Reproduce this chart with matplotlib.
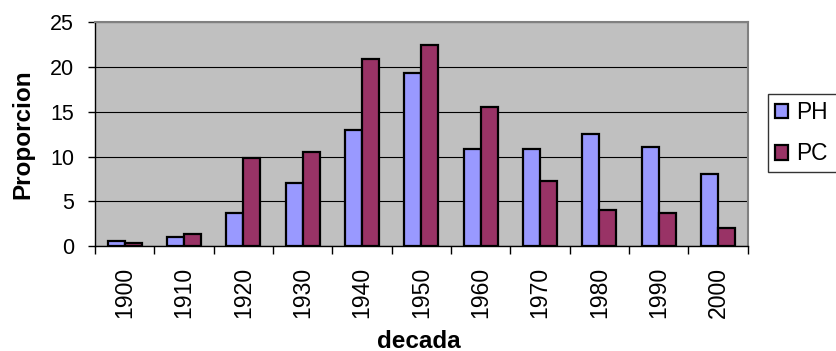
import numpy as np
import matplotlib
matplotlib.use('Agg')
import matplotlib.pyplot as plt
from matplotlib.patches import Patch

plt.rcParams['font.family'] = ['Liberation Sans', 'DejaVu Sans']

# Datos por decada
decadas = ['1900', '1910', '1920', '1930', '1940', '1950',
           '1960', '1970', '1980', '1990', '2000']
ph = [0.6, 1.0, 3.7, 7.1, 13.0, 19.3, 10.9, 10.9, 12.5, 11.1, 8.1]
pc = [0.4, 1.4, 9.8, 10.5, 20.9, 22.4, 15.5, 7.3, 4.1, 3.7, 2.0]

color_ph = '#9999FF'
color_pc = '#993366'

fig = plt.figure(figsize=(8.36, 3.51), dpi=100)
ax = fig.add_axes([95 / 836, 1 - 246.3 / 351, 652.7 / 836, 224.3 / 351])
ax.set_facecolor('#C0C0C0')

x = np.arange(len(decadas))
w = 1 / 3.5  # ancho de barra (separacion 150%)
ax.bar(x - w / 2, ph, width=w, color=color_ph, edgecolor='black', linewidth=1.6, zorder=3)
ax.bar(x + w / 2, pc, width=w, color=color_pc, edgecolor='black', linewidth=1.6, zorder=3)

ax.set_xlim(-0.5, len(decadas) - 0.5)
ax.set_ylim(0, 25)
ax.set_yticks(range(0, 26, 5))
ax.yaxis.grid(True, color='black', linewidth=0.8, zorder=1)
ax.set_axisbelow(True)

# Marcas del eje x entre categorias
ax.set_xticks(x)
ax.set_xticks(np.arange(-0.5, len(decadas)), minor=True)
ax.set_xticklabels(decadas, rotation=90, fontsize=16.6)
ax.tick_params(axis='x', which='major', length=0, pad=15)
ax.tick_params(axis='x', which='minor', length=6, width=1, direction='out', color='black')
ax.tick_params(axis='y', labelsize=15.5, length=5, width=1, direction='out', pad=10)

for side in ['left', 'bottom']:
    ax.spines[side].set_color('black')
    ax.spines[side].set_linewidth(1.0)
for side in ['top', 'right']:
    ax.spines[side].set_color('#808080')
    ax.spines[side].set_linewidth(1.5)

fig.text(23 / 836, 1 - 134 / 351, 'Proporcion', rotation=90, ha='center', va='center',
         fontsize=17.5, fontweight='bold')
fig.text(419 / 836, 1 - 341 / 351, 'decada', ha='center', va='center',
         fontsize=17.5, fontweight='bold')

# Leyenda pegada al borde derecho (se corta fuera de la figura)
handles = [Patch(facecolor=color_ph, edgecolor='black', linewidth=1.6, label='PH'),
           Patch(facecolor=color_pc, edgecolor='black', linewidth=1.6, label='PC')]
leg = fig.legend(handles=handles, loc='upper left', mode='expand',
                 bbox_to_anchor=(767.7 / 836, 1 - 94.3 / 351, 90 / 836, 0), borderaxespad=0,
                 fontsize=16.4, frameon=True, fancybox=False, shadow=False,
                 handlelength=0.6, handleheight=0.6, handletextpad=0.35,
                 labelspacing=0.8, borderpad=0.3)
leg.get_frame().set_edgecolor('black')
leg.get_frame().set_linewidth(1.0)

fig.savefig('out.png', dpi=100)
